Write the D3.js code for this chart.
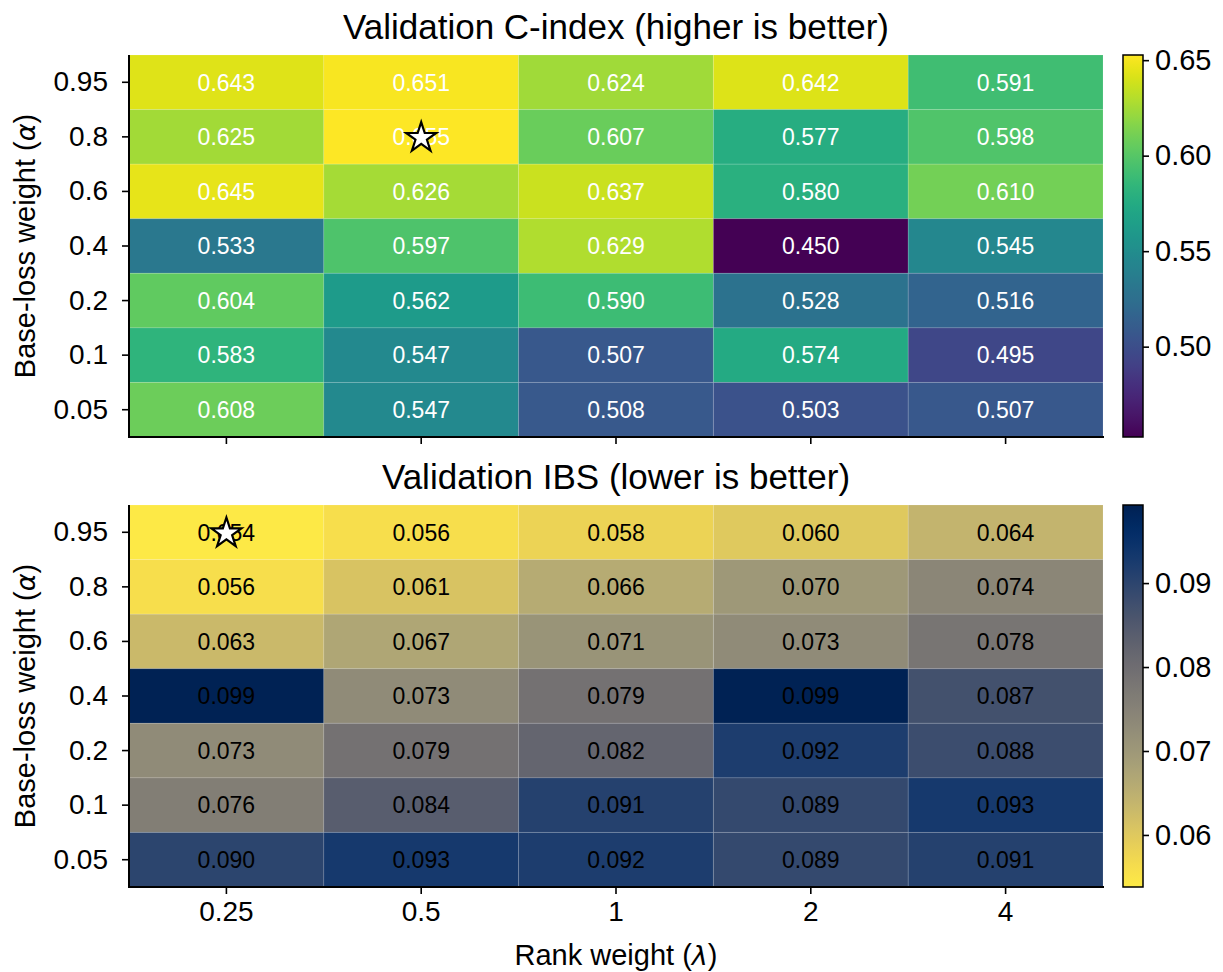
<!DOCTYPE html>
<html><head><meta charset="utf-8">
<script src="https://cdn.jsdelivr.net/npm/d3@7"></script>
<style>
body{margin:0;background:#fff;}
text{font-family:"Liberation Sans",Arial,Helvetica,sans-serif;}
</style></head>
<body><svg id="chart" width="1223" height="972"></svg>
<script>
const rankWeights = ["0.25","0.5","1","2","4"];
const alphas = ["0.95","0.8","0.6","0.4","0.2","0.1","0.05"];
const cindex = [
  [0.643,0.651,0.624,0.642,0.591],
  [0.625,0.655,0.607,0.577,0.598],
  [0.645,0.626,0.637,0.580,0.610],
  [0.533,0.597,0.629,0.450,0.545],
  [0.604,0.562,0.590,0.528,0.516],
  [0.583,0.547,0.507,0.574,0.495],
  [0.608,0.547,0.508,0.503,0.507]
];
const ibs = [
  [0.054,0.056,0.058,0.060,0.064],
  [0.056,0.061,0.066,0.070,0.074],
  [0.063,0.067,0.071,0.073,0.078],
  [0.099,0.073,0.079,0.099,0.087],
  [0.073,0.079,0.082,0.092,0.088],
  [0.076,0.084,0.091,0.089,0.093],
  [0.090,0.093,0.092,0.089,0.091]
];
const cindexTicks = [0.50,0.55,0.60,0.65];
const ibsTicks = [0.06,0.07,0.08,0.09];
const cindexLimits = [0.4527,0.6527];
const ibsLimits = [0.0538,0.0993];

const svg = d3.select("#chart");
const L = 129, R = 1103, CB0 = 1123, CB1 = 1143;
const panels = [
  {top:55, bottom:437, data:cindex, lim:cindexLimits, ticks:cindexTicks,
   interp: t=>d3.interpolateViridis(t), textColor:"#fff",
   title:"Validation C-index (higher is better)", best:"max", showX:false, id:"g0"},
  {top:505, bottom:887, data:ibs, lim:ibsLimits, ticks:ibsTicks,
   interp: t=>d3.interpolateCividis(1-t), textColor:"#000",
   title:"Validation IBS (lower is better)", best:"min", showX:true, id:"g1"}
];

const x = d3.scaleBand().domain(rankWeights).range([L,R]).padding(0);
const defs = svg.append("defs");

panels.forEach(p=>{
  const y = d3.scaleBand().domain(alphas).range([p.top,p.bottom]).padding(0);
  const color = d3.scaleSequential(p.interp).domain(p.lim).clamp(true);
  const g = svg.append("g");
  const cells = [];
  p.data.forEach((row,i)=>row.forEach((v,j)=>cells.push({a:alphas[i],r:rankWeights[j],v})));
  g.selectAll("rect.cell").data(cells).join("rect")
    .attr("x",d=>x(d.r)).attr("y",d=>y(d.a))
    .attr("width",x.bandwidth()).attr("height",y.bandwidth())
    .attr("fill",d=>color(d.v))
    .attr("stroke","rgba(255,255,255,0.12)").attr("stroke-width",1);
  g.selectAll("text.val").data(cells).join("text")
    .attr("x",d=>x(d.r)+x.bandwidth()/2).attr("y",d=>y(d.a)+y.bandwidth()/2)
    .attr("dy","0.36em").attr("text-anchor","middle")
    .attr("font-size",23).attr("fill",p.textColor)
    .text(d=>d3.format(".3f")(d.v));
  // best star
  const bestVal = p.best==="max" ? d3.max(cells,d=>d.v) : d3.min(cells,d=>d.v);
  const best = cells.find(d=>d.v===bestVal);
  g.append("path").attr("d",d3.symbol(d3.symbolStar,280)())
    .attr("transform",`translate(${x(best.r)+x.bandwidth()/2},${y(best.a)+y.bandwidth()/2+1})`)
    .attr("fill","#fff").attr("stroke","#000").attr("stroke-width",2.2).attr("stroke-linejoin","miter");

  // axes
  const ya = d3.axisLeft(y).tickSize(7).tickPadding(14);
  const gy = svg.append("g").attr("transform",`translate(${L},0)`).call(ya);
  const xa = d3.axisBottom(x).tickSize(7).tickPadding(7);
  if(!p.showX) xa.tickFormat("");
  const gx = svg.append("g").attr("transform",`translate(0,${p.bottom})`).call(xa);
  [gx,gy].forEach(a=>{
    a.select(".domain").attr("stroke","#000").attr("stroke-width",2);
    a.selectAll(".tick line").attr("stroke","#000").attr("stroke-width",1.6);
    a.selectAll(".tick text").attr("font-size",28).attr("fill","#000")
      .attr("font-family","'Liberation Sans',Arial,sans-serif");
  });
  gx.select(".domain").attr("d",`M${L},0H${R+1}`);
  gy.select(".domain").attr("d",`M0,${p.top}V${p.bottom+1}`);

  // title
  svg.append("text").attr("x",(L+R)/2).attr("y",p.top-16).attr("text-anchor","middle")
    .attr("font-size",35).attr("fill","#000").text(p.title);
  // y label
  const yl = svg.append("text")
    .attr("transform",`translate(35,${(p.top+p.bottom)/2}) rotate(-90)`)
    .attr("text-anchor","middle").attr("font-size",29).attr("fill","#000");
  yl.append("tspan").text("Base-loss weight (");
  yl.append("tspan").attr("font-style","italic").attr("font-family","'DejaVu Sans'").attr("font-size",27).text("α");
  yl.append("tspan").text(")");

  // colorbar
  const cb = d3.scaleLinear().domain(p.lim).range([p.bottom,p.top]);
  const gid = "grad"+p.id;
  const grad = defs.append("linearGradient").attr("id",gid)
    .attr("x1",0).attr("y1",1).attr("x2",0).attr("y2",0);
  d3.range(0,1.0001,0.02).forEach(t=>{
    grad.append("stop").attr("offset",t).attr("stop-color",color(p.lim[0]+t*(p.lim[1]-p.lim[0])));
  });
  svg.append("rect").attr("x",CB0).attr("y",p.top).attr("width",CB1-CB0).attr("height",p.bottom-p.top)
    .attr("fill",`url(#${gid})`).attr("stroke","#000").attr("stroke-width",1.5);
  const ca = d3.axisRight(cb).tickValues(p.ticks).tickFormat(d3.format(".2f")).tickSize(6).tickPadding(6);
  const gc = svg.append("g").attr("transform",`translate(${CB1},0)`).call(ca);
  gc.select(".domain").remove();
  gc.selectAll(".tick line").attr("stroke","#000").attr("stroke-width",1.6);
  gc.selectAll(".tick text").attr("font-size",29).attr("fill","#000")
    .attr("font-family","'Liberation Sans',Arial,sans-serif");
});

// x label
const xl = svg.append("text").attr("x",(L+R)/2).attr("y",965).attr("text-anchor","middle")
  .attr("font-size",29).attr("fill","#000");
xl.append("tspan").text("Rank weight (");
xl.append("tspan").attr("font-style","italic").attr("font-family","'DejaVu Sans'").attr("font-size",27).text("λ");
xl.append("tspan").text(")");
</script></body></html>
